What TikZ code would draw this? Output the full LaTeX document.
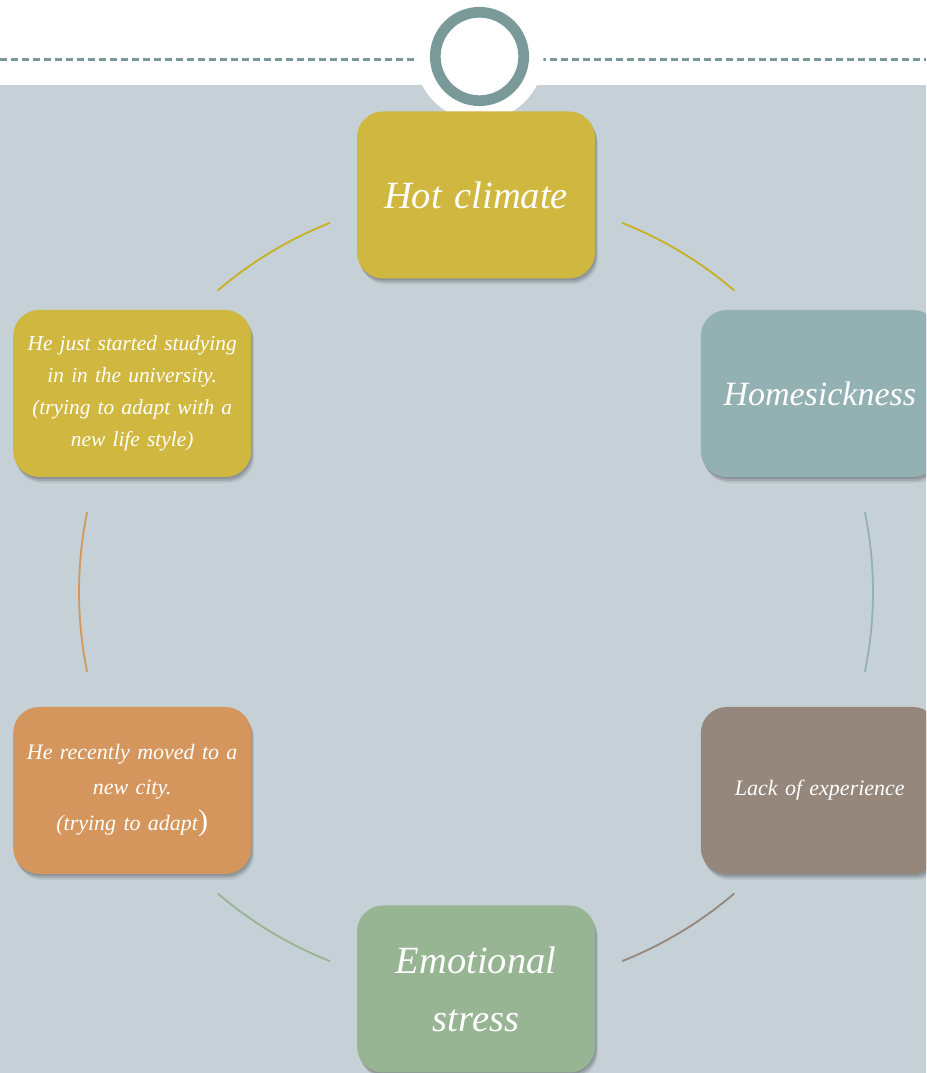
\documentclass[tikz,border=0pt]{standalone}
\usepackage{fontspec}
\setmainfont{Liberation Serif}
\newfontfamily\boxfont{Liberation Serif Italic}
\usetikzlibrary{calc,shadows}

\definecolor{paleblue}{HTML}{C5D1D7}
\definecolor{ringteal}{HTML}{7A9A99}
\definecolor{boxgold}{HTML}{D0B840}
\definecolor{linegold}{HTML}{C9B020}
\definecolor{boxteal}{HTML}{93B0B2}
\definecolor{boxbrown}{HTML}{95877C}
\definecolor{boxorange}{HTML}{D4965D}
\definecolor{boxgreen}{HTML}{97B493}

\begin{document}
\begin{tikzpicture}[x=1pt,y=1pt,
    box/.style={rounded corners=26pt, minimum width=238pt, minimum height=167pt,
      inner sep=0pt, text width=224pt, align=center, text=white,
      drop shadow={shadow xshift=1pt, shadow yshift=-2pt, fill=black, opacity=.12},
      drop shadow={shadow xshift=2pt, shadow yshift=-4pt, fill=black, opacity=.12},
      drop shadow={shadow xshift=3pt, shadow yshift=-6pt, fill=black, opacity=.07}},
    big/.style={font=\boxfont\fontsize{38.5}{58}\selectfont},
    small/.style={font=\boxfont\fontsize{21.4}{32}\selectfont},
    link/.style={line width=1.8pt}]
					\useasboundingbox (0,0) rectangle (926,1073);
					\clip (0,0) rectangle (926,1073);
					
					%BACKGROUND
					\fill[paleblue] (0,0) rectangle (926,988);
					%HEADER
					\coordinate (R) at (479.5,1016.5);
					\draw[ringteal, line width=2.2pt, dash pattern=on 7pt off 4pt] (0,1013.5) -- (926,1013.5);
					\fill[white] (R) circle (64);
					\draw[ringteal, line width=10.7pt] (R) circle (44.2);
					
					%CYCLE
					\coordinate (O) at (476,481);
					\node[box, big, fill=boxgold] (hot) at ($(O)+(90:397)$) {Hot climate};
					\node[box, big, font=\boxfont\fontsize{34}{40}\selectfont, fill=boxteal] (home) at ($(O)+(30:397)$) {Homesickness};
					\node[box, small, font=\boxfont\fontsize{22}{30}\selectfont, fill=boxbrown] (lack) at ($(O)+(-30:397)$) {Lack of experience};
					\node[box, big, fill=boxgreen] (stress) at ($(O)+(-90:397)$) {Emotional\\stress};
					\node[box, small, font=\boxfont\fontsize{22}{35.5}\selectfont, fill=boxorange] (city) at ($(O)+(-150:397)$)
					  {He recently moved to a\\new city.\\(trying to adapt{\fontspec{Liberation Serif}\fontsize{30}{35.5}\selectfont)}};
					\node[box, small, fill=boxgold] (uni) at ($(O)+(150:397)$)
					  {He just started studying\\in in the university.\\(trying to adapt with a\\new life style)};
					
					%ARCS
					\draw[link, linegold] ($(O)+(68.4:397)$) arc (68.4:49.4:397);
					\draw[link, boxteal] ($(O)+(11.6:397)$) arc (11.6:-11.6:397);
					\draw[link, boxbrown] ($(O)+(-49.4:397)$) arc (-49.4:-68.4:397);
					\draw[link, boxgreen] ($(O)+(-111.6:397)$) arc (-111.6:-130.6:397);
					\draw[link, boxorange] ($(O)+(-168.4:397)$) arc (-168.4:-191.6:397);
					\draw[link, linegold] ($(O)+(130.6:397)$) arc (130.6:111.6:397);
\end{tikzpicture}
\end{document}
